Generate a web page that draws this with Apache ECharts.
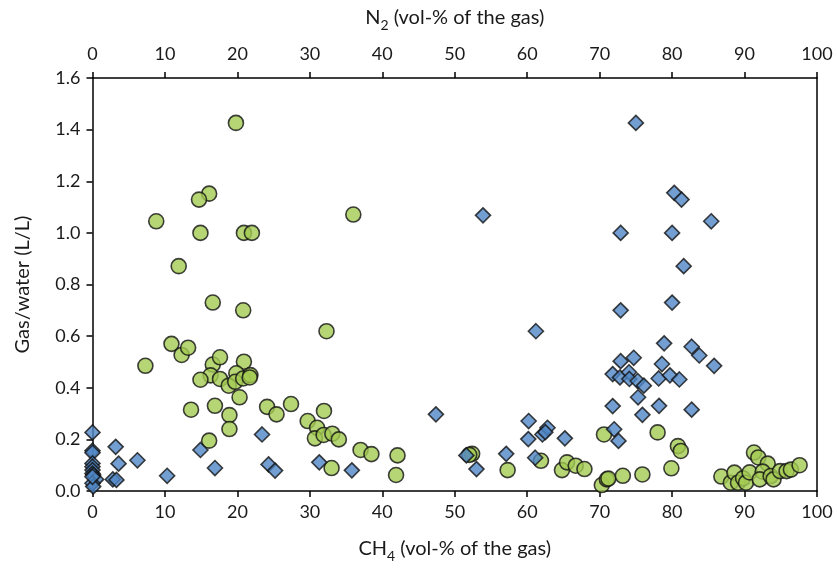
<!DOCTYPE html>
<html>
<head>
<meta charset="utf-8">
<script src="https://cdn.jsdelivr.net/npm/echarts@6/dist/echarts.min.js"></script>
<style>html,body{margin:0;padding:0;background:#fff}#c{width:837px;height:570px}</style>
</head>
<body>
<div id="c"></div>
<script>
// Green circles: CH4 (vol-% of the gas) vs Gas/water (L/L)
const ch4X = [19.8,16.1,14.7,8.8,14.9,20.9,22.0,36.0,11.9,16.6,20.8,32.3,10.9,12.3,13.2,7.3,16.6,17.6,20.9,16.3,14.9,17.6,18.8,19.85,19.7,20.8,21.8,21.7,20.3,13.6,16.9,18.9,18.9,16.1,24.1,25.4,27.4,29.7,31.0,31.95,30.7,31.9,33.1,34.0,33.0,37.0,38.5,42.1,41.9,52.4,52.0,57.3,61.9,64.8,65.5,66.7,67.9,70.6,70.3,71.0,71.2,73.2,75.9,78.0,80.8,81.2,79.9,86.8,88.1,88.6,89.1,89.8,90.2,90.7,91.3,91.9,93.2,92.5,92.1,93.6,94.0,94.9,95.8,96.4,97.6];
const ch4Y = [1.426,1.152,1.129,1.045,1.0,1.0,1.0,1.071,0.871,0.730,0.700,0.619,0.570,0.527,0.555,0.485,0.490,0.518,0.501,0.448,0.431,0.434,0.408,0.456,0.423,0.436,0.449,0.44,0.363,0.315,0.330,0.294,0.240,0.195,0.326,0.297,0.337,0.271,0.245,0.310,0.204,0.217,0.222,0.200,0.089,0.159,0.143,0.138,0.062,0.144,0.140,0.081,0.117,0.081,0.111,0.098,0.085,0.219,0.023,0.045,0.048,0.059,0.064,0.227,0.174,0.155,0.088,0.056,0.032,0.071,0.032,0.049,0.032,0.072,0.149,0.130,0.106,0.075,0.045,0.058,0.045,0.077,0.077,0.083,0.100];
// Blue diamonds: N2 (vol-% of the gas) vs Gas/water (L/L)
const n2X = [75.0,80.3,81.3,72.9,80.0,85.4,81.6,53.9,80.0,72.9,78.9,82.7,83.75,85.8,72.9,74.7,78.6,71.8,72.8,74.05,74.1,75.25,76.1,78.15,79.7,81.0,75.3,71.8,78.2,75.9,82.7,72.0,72.6,61.2,47.4,60.2,60.15,62.1,62.8,62.5,65.2,61.1,57.1,51.6,53.0,35.8,0,0,0,3.2,3.6,6.2,10.3,14.9,16.9,23.4,24.3,25.2,31.3,2.8,3.3,0,0,0,0,0.1,0.5,0,0.1,0];
const n2Y = [1.426,1.155,1.129,1.0,1.0,1.045,0.871,1.068,0.730,0.700,0.572,0.559,0.525,0.485,0.503,0.516,0.492,0.453,0.440,0.460,0.434,0.426,0.408,0.436,0.448,0.432,0.363,0.329,0.330,0.295,0.315,0.239,0.194,0.619,0.297,0.271,0.201,0.219,0.245,0.228,0.204,0.129,0.144,0.138,0.085,0.080,0.227,0.156,0.148,0.171,0.106,0.119,0.059,0.159,0.089,0.219,0.103,0.079,0.111,0.045,0.043,0.107,0.094,0.081,0.068,0.062,0.045,0.030,0.017,0.055];
const xTicks = [0,10,20,30,40,50,60,70,80,90,100];
const yTicks = [0.0,0.2,0.4,0.6,0.8,1.0,1.2,1.4,1.6];

const font = 'Lato, "Open Sans", sans-serif';
const txt = '#1a1a1a';
const lineStyle = {color:'#000', width:1.5};
const titleRich = {
  t:{fontSize:20, fontFamily:font, color:txt, lineHeight:24, verticalAlign:'bottom'},
  s:{fontSize:14, fontFamily:font, color:txt, lineHeight:16, verticalAlign:'bottom', padding:[0,0,-4,0]}
};
function xAx(pos, name, gap, margin){
  return {
    type:'value', position:pos, min:0, max:100, interval:10,
    name:name, nameLocation:'middle', nameGap:gap,
    nameTextStyle:{rich:titleRich},
    axisLine:{show:true, onZero:false, lineStyle:lineStyle},
    axisTick:{show:true, inside:false, length:6, lineStyle:lineStyle},
    axisLabel:{fontSize:18, fontFamily:font, color:txt, margin:margin,
      formatter:v=> xTicks.includes(v) ? String(v) : ''},
    splitLine:{show:false}
  };
}
const chart = echarts.init(document.getElementById('c'), null, {renderer:'canvas'});
chart.setOption({
  animation:false,
  backgroundColor:'#fff',
  grid:{left:92.5, right:20, top:78, bottom:79, containLabel:false},
  xAxis:[
    xAx('bottom','{t|CH}{s|4}{t| (vol-% of the gas)}',44,12),
    xAx('top','{t|N}{s|2}{t| (vol-% of the gas)}',50,15)
  ],
  yAxis:[
    {type:'value', min:0, max:1.6, interval:0.2,
     name:'Gas/water (L/L)', nameLocation:'middle', nameGap:60,
     nameTextStyle:{fontSize:20, fontFamily:font, color:txt},
     axisLine:{show:true, onZero:false, lineStyle:lineStyle},
     axisTick:{show:true, length:6, lineStyle:lineStyle},
     axisLabel:{fontSize:18, fontFamily:font, color:txt, margin:12,
       formatter:v=>{const r=Math.round(v*10)/10; return yTicks.includes(r)? r.toFixed(1):'';}},
     splitLine:{show:false}},
    {type:'value', position:'right', min:0, max:1.6, interval:0.2,
     axisLine:{show:true, onZero:false, lineStyle:lineStyle},
     axisTick:{show:false}, axisLabel:{show:false}, splitLine:{show:false}}
  ],
  series:[
    {type:'scatter', xAxisIndex:0, yAxisIndex:0, symbol:'circle', symbolSize:15,
     itemStyle:{color:'#a4ca52', borderColor:'#111', borderWidth:1.6},
     data: ch4X.map((x,i)=>[x, ch4Y[i]]), z:2},
    {type:'scatter', xAxisIndex:1, yAxisIndex:0, symbol:'diamond', symbolSize:[15,15],
     itemStyle:{color:'#4f86c6', borderColor:'#111', borderWidth:1.6},
     data: n2X.map((x,i)=>[x, n2Y[i]]), z:3}
  ]
});
</script>
</body>
</html>
